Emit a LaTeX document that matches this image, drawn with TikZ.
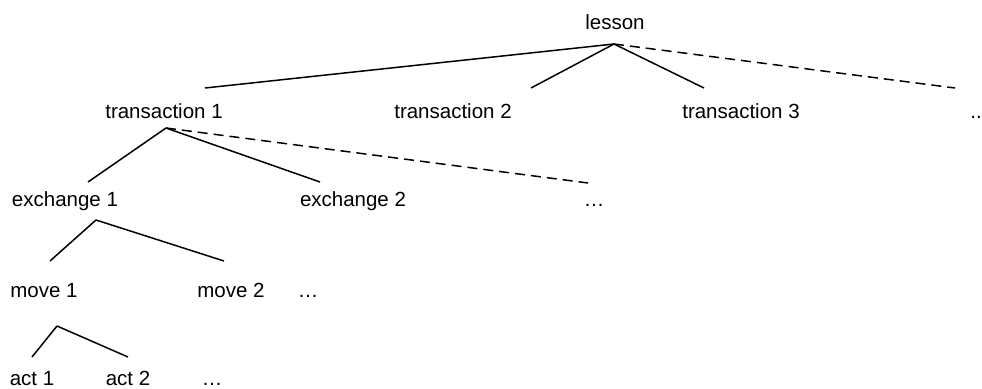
\documentclass[tikz,border=0pt]{standalone}
\usepackage{fontspec}
\setmainfont{Liberation Sans}
\begin{document}
\begin{tikzpicture}[x=1pt,y=-1pt,
  lbl/.style={anchor=base,inner sep=0pt,font=\fontsize{20.5}{24}\selectfont},
  edge/.style={line width=1.5pt},
  dedge/.style={line width=1.5pt,dash pattern=on 10pt off 6pt}]
\useasboundingbox (0,0) rectangle (982,388);
% labels
\node[lbl] (lesson) at (615,29) {lesson};
\node[lbl] (t1) at (164,118) {transaction 1};
\node[lbl] (t2) at (453,118) {transaction 2};
\node[lbl] (t3) at (741,118) {transaction 3};
\node[lbl] (tdots) at (976,118) {..};
\node[lbl] (e1) at (65,206) {exchange 1};
\node[lbl] (e2) at (353,206) {exchange 2};
\node[lbl] (edots) at (594,206) {…};
\node[lbl] (m1) at (44,297) {move 1};
\node[lbl] (m2) at (231,297) {move 2};
\node[lbl] (mdots) at (308,297) {…};
\node[lbl] (a1) at (32,385) {act 1};
\node[lbl] (a2) at (128,385) {act 2};
\node[lbl] (adots) at (212,385) {…};
% branch points
\coordinate (rl) at (614,44);
\coordinate (rt1) at (205,88);
\coordinate (rt2) at (531,88);
\coordinate (rt3) at (704,88);
\coordinate (rtd) at (955,88);
\coordinate (pt1) at (166,128);
\coordinate (pe1) at (88,182);
\coordinate (pe2) at (320,182);
\coordinate (ped) at (588,183);
\coordinate (px1) at (96,220);
\coordinate (pm1) at (50,261);
\coordinate (pm2) at (224,261);
\coordinate (pmv) at (57,326);
\coordinate (pa1) at (32,357);
\coordinate (pa2) at (128,357);
% connectors
\draw[edge] (rl) -- (rt1);
\draw[edge] (rl) -- (rt2);
\draw[edge] (rl) -- (rt3);
\draw[dedge] (rl) -- (rtd);
\draw[edge] (pt1) -- (pe1);
\draw[edge] (pt1) -- (pe2);
\draw[dedge] (pt1) -- (ped);
\draw[edge] (px1) -- (pm1);
\draw[edge] (px1) -- (pm2);
\draw[edge] (pmv) -- (pa1);
\draw[edge] (pmv) -- (pa2);
\end{tikzpicture}
\end{document}
